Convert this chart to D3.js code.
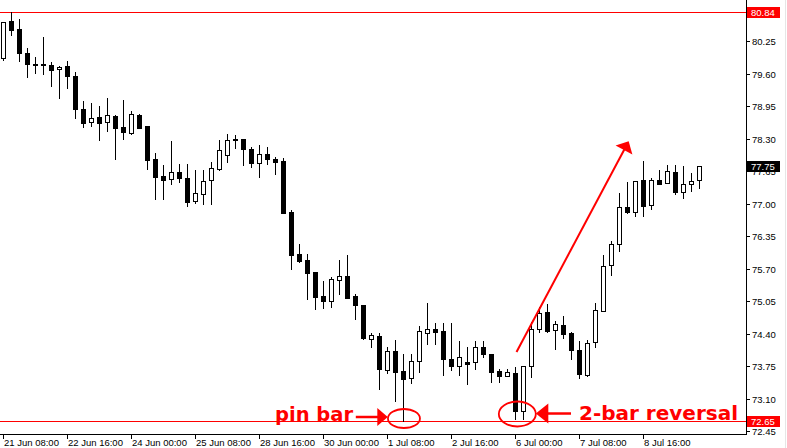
<!DOCTYPE html>
<html><head><meta charset="utf-8">
<script src="https://cdn.jsdelivr.net/npm/d3@7"></script>
<style>html,body{margin:0;padding:0;background:#fff;}svg{display:block;}</style>
</head><body>
<svg id="c" width="787" height="448"></svg>
<script>
const opens  = [79.92,80.66,80.49,80.01,79.79,79.79,79.77,79.69,79.75,79.55,78.89,78.63,78.73,78.63,78.75,78.53,78.42,78.77,78.55,77.90,77.56,77.49,77.63,77.52,77.06,77.19,77.47,77.70,77.98,78.29,78.29,78.10,77.82,77.99,77.90,77.86,76.84,75.99,75.88,75.64,75.16,75.05,75.47,75.56,75.15,74.98,74.30,74.35,73.68,74.05,73.65,73.52,73.86,74.42,74.49,74.45,73.90,73.76,73.83,73.83,74.14,74.00,73.66,73.55,73.62,72.85,73.75,74.49,74.84,74.48,74.58,74.41,74.08,73.57,74.24,74.86,75.78,76.19,76.93,76.83,77.47,76.97,77.48,77.41,77.63,77.24,77.39,77.47];
const highs  = [80.64,80.84,80.69,80.11,79.93,80.33,79.83,79.75,79.85,79.63,79.05,79.01,78.95,79.11,78.77,79.07,78.85,78.79,78.55,78.02,77.78,78.25,77.80,77.80,77.68,77.68,77.84,78.27,78.39,78.37,78.29,78.14,78.18,78.14,77.94,77.92,76.88,76.19,75.99,75.64,75.46,75.54,75.88,75.98,75.20,74.98,74.41,74.41,74.13,74.28,73.99,73.99,74.55,75.02,74.62,74.62,74.62,74.26,74.13,74.26,74.26,74.00,73.70,73.70,73.73,73.76,74.63,74.94,74.99,74.66,74.76,74.44,74.25,74.27,75.01,75.98,76.26,77.22,77.44,77.45,77.86,77.52,77.68,77.78,77.78,77.76,77.62,77.75];
const lows   = [79.88,80.38,79.85,79.53,79.62,79.60,79.36,79.12,79.32,78.72,78.53,78.56,78.28,78.46,77.90,78.30,78.40,78.51,77.70,77.10,77.10,77.40,77.44,76.96,77.02,76.99,76.99,77.68,77.84,78.12,77.78,77.74,77.54,77.80,77.60,76.82,75.69,75.83,75.09,74.89,74.91,74.93,75.19,75.11,74.70,74.29,74.13,73.30,73.61,73.05,72.65,73.41,73.63,74.19,74.19,73.57,73.67,73.57,73.40,73.70,73.94,73.44,73.43,73.55,72.70,72.69,73.53,74.43,74.43,74.10,74.32,73.89,73.51,73.56,74.13,74.86,75.58,76.05,76.82,76.76,76.76,76.90,77.40,77.41,77.19,77.12,77.26,77.32];
const closes = [80.64,80.48,80.02,79.80,79.77,79.77,79.68,79.73,79.56,78.90,78.62,78.71,78.62,78.77,78.52,78.44,78.79,78.52,77.88,77.54,77.48,77.63,77.52,77.04,77.21,77.45,77.71,78.07,78.27,78.27,78.10,77.82,77.99,77.90,77.84,76.82,75.97,75.85,75.61,75.13,75.05,75.50,75.56,75.11,74.98,74.32,74.37,73.69,74.05,73.63,73.49,73.85,74.45,74.49,74.43,73.89,73.76,73.94,73.80,74.14,74.00,73.63,73.55,73.64,72.85,73.76,74.50,74.82,74.45,74.60,74.40,74.08,73.60,74.22,74.88,75.76,76.19,76.93,76.84,77.45,76.96,77.47,77.40,77.65,77.24,77.39,77.45,77.75];

const priceTicks = [80.25,79.60,78.95,78.30,77.65,77.00,76.35,75.70,75.05,74.40,73.75,73.10,72.45];
const timeTickIndex = [0,8,16,24,32,40,48,56,64,72,80];
const timeTickLabels = ["21 Jun 08:00","22 Jun 16:00","24 Jun 00:00","25 Jun 08:00","28 Jun 16:00","30 Jun 00:00","1 Jul 08:00","2 Jul 16:00","6 Jul 00:00","7 Jul 08:00","8 Jul 16:00"];

const levelHigh = 80.84, levelLow = 72.65, lastPrice = 77.75;

// annotations in data coordinates [bar index, price]
const trendArrow = {from:[64.19,74.03], to:[78.21,78.25]};
const pinEllipse = {c:[50.12,72.70]};
const revEllipse = {c:[64.29,72.79]};
const pinArrow = {from:[44.1,72.73], to:[48.1,72.73]};
const revArrow = {from:[71.0,72.80], to:[66.6,72.80]};
const pinText = {at:[34.0,72.65], text:"pin bar"};
const revText = {at:[72.0,72.67], text:"2-bar reversal"};

const W=787,H=448, plotR=746, plotB=434;
const svg = d3.select("#c");
const x = d3.scaleLinear().domain([0,87]).range([3,699]);
const y = d3.scaleLinear().domain([72.45,80.25]).range([431,41.3]);
const px = v => Math.round(x(v))+0.5;
const py = v => Math.round(y(v));
const RED = "#ff0000";

svg.append("rect").attr("width",W).attr("height",H).attr("fill","#fff");
svg.append("line").attr("x1",785.5).attr("x2",785.5).attr("y1",0).attr("y2",H).attr("stroke","#e6e6e6");

// level lines
[levelHigh, levelLow].forEach(v=>{
  svg.append("line").attr("x1",0).attr("x2",plotR).attr("y1",py(v)+0.5).attr("y2",py(v)+0.5)
    .attr("stroke",RED).attr("stroke-width",1);
});

// candles
const data = opens.map((o,i)=>({i,o,h:highs[i],l:lows[i],c:closes[i]}));
const g = svg.append("g");
g.selectAll("line.w").data(data).join("line").attr("class","w")
  .attr("x1",d=>px(d.i)).attr("x2",d=>px(d.i))
  .attr("y1",d=>py(d.h)).attr("y2",d=>py(d.l)+1)
  .attr("stroke","#000").attr("stroke-width",1);
g.selectAll("rect.b").data(data).join("rect").attr("class","b")
  .attr("x",d=>d.c>=d.o ? px(d.i)-2 : px(d.i)-2.5)
  .attr("y",d=>d.c>=d.o ? py(Math.max(d.o,d.c))+0.5 : py(Math.max(d.o,d.c)))
  .attr("width",d=>d.c>=d.o ? 4 : 5)
  .attr("height",d=>{const hh=py(Math.min(d.o,d.c))-py(Math.max(d.o,d.c)); return d.c>=d.o ? Math.max(hh,1) : Math.max(hh+1,2);})
  .attr("fill",d=>d.c>=d.o?"#fff":"#000")
  .attr("stroke",d=>d.c>=d.o?"#000":"none")
  .attr("stroke-width",1);

// frame
svg.append("line").attr("x1",plotR+0.5).attr("x2",plotR+0.5).attr("y1",0).attr("y2",plotB+1).attr("stroke","#000");
svg.append("line").attr("x1",0).attr("x2",plotR+1).attr("y1",plotB+0.5).attr("y2",plotB+0.5).attr("stroke","#000");

const font = "'Liberation Sans', Arial, sans-serif";
// right axis
const ra = svg.append("g");
priceTicks.forEach(v=>{
  ra.append("line").attr("x1",plotR+1).attr("x2",plotR+4).attr("y1",py(v)+0.5).attr("y2",py(v)+0.5).attr("stroke","#000");
  ra.append("text").attr("x",752).attr("y",py(v)+0.5).attr("dy","0.35em")
    .attr("font-family",font).attr("font-size",9.5).attr("fill","#000").text(v.toFixed(2));
});
// bottom axis
timeTickIndex.forEach((ix,k)=>{
  svg.append("line").attr("x1",px(ix)).attr("x2",px(ix)).attr("y1",plotB+1).attr("y2",plotB+5).attr("stroke","#000");
  svg.append("text").attr("x",px(ix)+0.5).attr("y",446)
    .attr("font-family",font).attr("font-size",9.5).attr("fill","#000").text(timeTickLabels[k]);
});

// price tags
function tag(v,fill){
  const yy=py(v);
  svg.append("rect").attr("x",plotR+1).attr("y",yy-5).attr("width",33).attr("height",11).attr("fill",fill);
  svg.append("text").attr("x",751).attr("y",yy+0.5).attr("dy","0.35em")
    .attr("font-family",font).attr("font-size",9.5).attr("fill","#fff").text(v.toFixed(2));
}
tag(levelHigh,RED); tag(levelLow,RED); tag(lastPrice,"#000");

// annotations
const ann = svg.append("g");
function arrow(from,to,headLen,headHalf,sw){
  const x1=x(from[0]),y1=y(from[1]),x2=x(to[0]),y2=y(to[1]);
  const dx=x2-x1,dy=y2-y1,L=Math.hypot(dx,dy),ux=dx/L,uy=dy/L;
  const bx=x2-ux*headLen,by=y2-uy*headLen;
  ann.append("line").attr("x1",x1).attr("y1",y1).attr("x2",bx+ux).attr("y2",by+uy).attr("stroke",RED).attr("stroke-width",sw);
  ann.append("path").attr("d",`M${x2},${y2}L${bx-uy*headHalf},${by+ux*headHalf}L${bx+uy*headHalf},${by-ux*headHalf}Z`).attr("fill",RED);
}
arrow(trendArrow.from,trendArrow.to,10,9.5,2);
arrow(pinArrow.from,pinArrow.to,10.5,9,2.5);
arrow(revArrow.from,revArrow.to,12.5,10,2.5);
ann.append("ellipse").attr("cx",x(pinEllipse.c[0])).attr("cy",y(pinEllipse.c[1])).attr("rx",16).attr("ry",9.5)
  .attr("fill","none").attr("stroke",RED).attr("stroke-width",1.8);
ann.append("ellipse").attr("cx",x(revEllipse.c[0])).attr("cy",y(revEllipse.c[1])).attr("rx",18.5).attr("ry",12.5)
  .attr("fill","none").attr("stroke",RED).attr("stroke-width",1.8);
const bold = "'DejaVu Sans', Verdana, sans-serif";
ann.append("text").attr("x",x(pinText.at[0])).attr("y",y(pinText.at[1])).attr("font-family",bold).attr("font-weight","bold")
  .attr("font-size",19.5).attr("fill",RED).text(pinText.text);
ann.append("text").attr("x",x(revText.at[0])).attr("y",y(revText.at[1])).attr("font-family",bold).attr("font-weight","bold")
  .attr("font-size",20).attr("fill",RED).text(revText.text);
</script>
</body></html>
